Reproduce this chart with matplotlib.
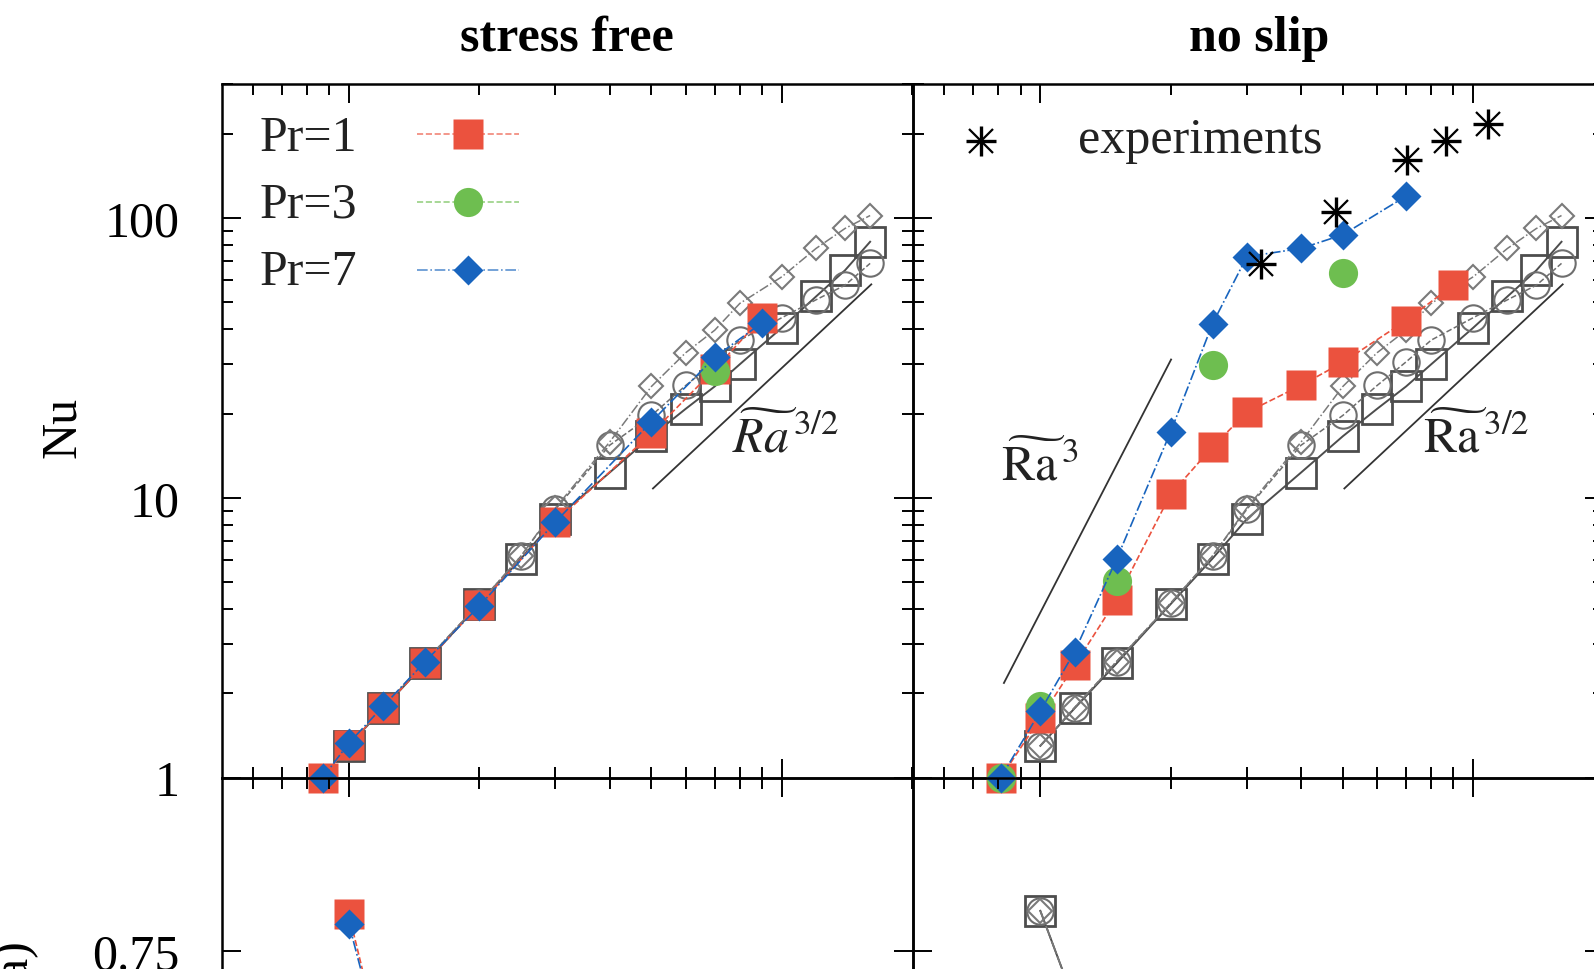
import matplotlib
matplotlib.use("Agg")
import matplotlib.pyplot as plt
from matplotlib.ticker import LogLocator, NullFormatter, FixedLocator, FixedFormatter

# ---------------- data ----------------
# stress free (top left)
sf_x = [8.7, 10, 12, 15, 20, 30, 50, 70, 90]
sf_pr1 = [1.0, 1.31, 1.77, 2.56, 4.15, 8.2, 17.0, 28.8, 44.0]
sf_pr7 = [1.0, 1.33, 1.80, 2.60, 4.10, 8.2, 18.7, 31.8, 42.2]
sf_pr3_x = [70]
sf_pr3 = [28.5]

# no slip (top right)
ns_x = [8.1, 10, 12, 15, 20, 25, 30, 40, 50, 70, 90]
ns_pr1 = [1.0, 1.63, 2.52, 4.33, 10.3, 15.2, 20.2, 25.2, 30.5, 43.0, 57.6]
ns_pr7_x = [8.1, 10, 12, 15, 20, 25, 30, 40, 50, 70]
ns_pr7 = [1.0, 1.73, 2.82, 6.03, 17.2, 41.9, 72.7, 77.8, 87.1, 119.7]
ns_pr3_x = [8.1, 10, 15, 25, 50]
ns_pr3 = [1.0, 1.8, 5.03, 29.9, 63.8]
exp_x = [32.4, 48.1, 70.3, 86.5, 108.5]
exp_nu = [68.2, 105.0, 161.6, 187.8, 215.8]

# grey reference series (same in both panels)
gray_x = [10, 12, 15, 20, 25, 30, 40, 50, 60, 70, 80, 100, 120, 140, 160]
gray_sq = [1.30, 1.77, 2.56, 4.17, 6.07, 8.4, 12.3, 16.6, 20.8, 25.0, 30.0, 40.5, 52.4, 65.0, 82.2]
gray_ci = [1.30, 1.78, 2.60, 4.20, 6.20, 9.1, 15.4, 19.7, 25.2, 30.6, 36.6, 44.0, 51.0, 57.5, 68.8]
gray_di = [1.30, 1.78, 2.60, 4.20, 6.20, 9.2, 15.8, 25.0, 33.0, 39.7, 49.5, 61.6, 77.8, 91.7, 102.0]

# guide lines
g32_x = [50.4, 161.0]
g32_y = [10.8, 57.9]
g3_x = [8.24, 20.05]
g3_y = [2.18, 31.2]

# lower panels (partially visible)
low_x = [10, 12]
low_sf_pr1 = [0.803, 0.60]
low_sf_pr7 = [0.789, 0.60]
low_ns_gray = [0.808, 0.676]

titles = ["stress free", "no slip"]
legend_labels = ["Pr=1", "Pr=3", "Pr=7"]
nu_ticks = [1, 10, 100]
nu_ticklabels = ["1", "10", "100"]
low_ticks = [0.25, 0.5, 0.75]
low_ticklabels = ["0.25", "0.5", "0.75"]

# ---------------- style ----------------
plt.rcParams["font.family"] = ["Liberation Serif", "DejaVu Serif"]
plt.rcParams["mathtext.fontset"] = "stix"
FS = 36
RED = "#EB523E"
GREEN = "#6EBE50"
BLUE = "#1864BE"
G1 = "#4d4d4d"
G2 = "#6e6e6e"
G3 = "#7a7a7a"

W, H = 1594, 970
fig = plt.figure(figsize=(W / 100, H / 100), dpi=100)


def rect(l, t, w, h):
    return [l / W, (H - t - h) / H, w / W, h / H]


PW, PH = 691.4, 693.3
ax_sf = fig.add_axes(rect(221.6, 85.4, PW, PH))
ax_ns = fig.add_axes(rect(913.0, 85.4, PW, PH))
ax_sfb = fig.add_axes(rect(221.6, 778.7, PW, PH))
ax_nsb = fig.add_axes(rect(913.0, 778.7, PW, PH))

XLIM = (5.08, 201)

for ax in (ax_sf, ax_ns, ax_sfb, ax_nsb):
    ax.set_xscale("log")
    ax.set_xlim(*XLIM)
    ax.xaxis.set_major_locator(FixedLocator([10, 100]))
    ax.xaxis.set_minor_locator(LogLocator(base=10, subs=range(2, 10)))
    ax.xaxis.set_major_formatter(NullFormatter())
    ax.xaxis.set_minor_formatter(NullFormatter())
    ax.tick_params(which="both", direction="in", top=True, right=True,
                   labelsize=FS, width=1.4, colors="black")
    ax.tick_params(which="major", length=14, pad=30)
    ax.tick_params(which="minor", length=8)
    for s in ax.spines.values():
        s.set_linewidth(1.8)
    ax.patch.set_visible(False)

for ax in (ax_sf, ax_ns):
    ax.set_yscale("log")
    ax.set_ylim(1, 300)
    ax.yaxis.set_major_locator(FixedLocator(nu_ticks))
    ax.yaxis.set_minor_locator(LogLocator(base=10, subs=range(2, 10)))
    ax.yaxis.set_minor_formatter(NullFormatter())

ax_sf.yaxis.set_major_formatter(FixedFormatter(nu_ticklabels))
ax_ns.yaxis.set_major_formatter(NullFormatter())

for ax in (ax_sfb, ax_nsb):
    ax.set_ylim(0, 1)
    ax.yaxis.set_major_locator(FixedLocator(low_ticks))
    ax.yaxis.set_minor_locator(FixedLocator([]))
ax_sfb.yaxis.set_major_formatter(FixedFormatter(low_ticklabels))
ax_nsb.yaxis.set_major_formatter(NullFormatter())

ax_sf.set_title(titles[0], fontsize=FS, fontweight="bold", pad=25)
ax_ns.set_title(titles[1], fontsize=FS, fontweight="bold", pad=25)
fig.text(63 / W, 1 - 427 / H, "Nu", fontsize=FS, rotation=90, ha="center", va="center")
fig.text(14 / W, 1 - 938 / H, "(Ra)", fontsize=FS, rotation=90, ha="center", va="top")


def gray_series(ax, x, ysq, yci, ydi, clip=True):
    ax.plot(x, ysq, "-", color=G1, lw=1.4, marker="s", ms=21, mfc="none",
            mec=G1, mew=2.0, zorder=2, clip_on=clip)
    ax.plot(x, yci, "--", color=G2, lw=1.1, marker="o", ms=19, mfc="none",
            mec=G2, mew=1.5, zorder=2, clip_on=clip)
    ax.plot(x, ydi, "-.", color=G3, lw=1.1, marker="D", ms=12.5, mfc="none",
            mec=G3, mew=1.5, zorder=2, clip_on=clip)


gray_series(ax_sf, gray_x, gray_sq, gray_ci, gray_di)
gray_series(ax_ns, gray_x, gray_sq, gray_ci, gray_di)

sq_kw = dict(marker="s", ms=21, mec="none", clip_on=False)
ci_kw = dict(marker="o", ms=21, mec="none", clip_on=False)
di_kw = dict(marker="D", ms=15.5, mec="none", clip_on=False)

# stress free
ax_sf.plot(sf_x, sf_pr1, ls="--", color=RED, lw=1.2, mfc=RED, zorder=3, **sq_kw)
ax_sf.plot(sf_pr3_x, sf_pr3, ls="--", color=GREEN, lw=1.2, mfc=GREEN, zorder=4, **ci_kw)
ax_sf.plot(sf_x, sf_pr7, ls="-.", color=BLUE, lw=1.2, mfc=BLUE, zorder=5, **di_kw)

# no slip
ax_ns.plot(ns_x, ns_pr1, ls="--", color=RED, lw=1.2, mfc=RED, zorder=3, **sq_kw)
ax_ns.plot(ns_pr3_x, ns_pr3, ls="none", color=GREEN, mfc=GREEN, zorder=4, **ci_kw)
ax_ns.plot(ns_pr7_x, ns_pr7, ls="-.", color=BLUE, lw=1.2, mfc=BLUE, zorder=5, **di_kw)
for m, ms, mw in (("+", 22, 2.4), ("x", 17, 1.6)):
    ax_ns.plot(exp_x, exp_nu, ls="none", marker=m, ms=ms, mew=mw, color="black",
               zorder=6, clip_on=False)

# guide lines
ax_sf.plot(g32_x, g32_y, color="#333333", lw=1.3, zorder=1)
ax_ns.plot(g32_x, g32_y, color="#333333", lw=1.3, zorder=1)
ax_ns.plot(g3_x, g3_y, color="#333333", lw=1.3, zorder=1)

ax_sf.text(0.816, 0.49, r"$\widetilde{Ra}^{\,3/2}$", transform=ax_sf.transAxes,
           fontsize=FS, ha="center", va="center", color="#222222")
ax_ns.text(0.814, 0.49, r"$\widetilde{\mathrm{Ra}}^{\,3/2}$", transform=ax_ns.transAxes,
           fontsize=FS, ha="center", va="center", color="#222222")
ax_ns.text(0.184, 0.45, r"$\widetilde{\mathrm{Ra}}^{\,3}$", transform=ax_ns.transAxes,
           fontsize=FS, ha="center", va="center", color="#222222")

# experiments key
for m, ms, mw in (("+", 22, 2.4), ("x", 17, 1.6)):
    ax_ns.plot([0.0988], [0.918], transform=ax_ns.transAxes, ls="none", marker=m,
               ms=ms, mew=mw, color="black")
ax_ns.text(0.416, 0.903, "experiments", transform=ax_ns.transAxes, fontsize=FS,
           ha="center", va="baseline", color="#222222")

# legend (stress free panel)
leg_rows = [(legend_labels[0], RED, "--", "s", 21, 0.906, 0.928),
            (legend_labels[1], GREEN, "--", "o", 21, 0.809, 0.830),
            (legend_labels[2], BLUE, "-.", "D", 15.5, 0.7125, 0.733)]
for lab, col, ls, mk, ms, yb, ym in leg_rows:
    ax_sf.text(0.0544, yb, lab, transform=ax_sf.transAxes, fontsize=FS,
               ha="left", va="baseline", color="#222222")
    ax_sf.plot([0.2824, 0.4295], [ym, ym], transform=ax_sf.transAxes, ls=ls,
               color=col, lw=1.2, alpha=0.7)
    ax_sf.plot([0.356], [ym], transform=ax_sf.transAxes, ls="none", marker=mk,
               ms=ms, mfc=col, mec="none")

# lower panels
ax_sfb.plot(low_x, low_sf_pr1, ls="--", color=RED, lw=1.2, mfc=RED, zorder=3, **sq_kw)
ax_sfb.plot(low_x, low_sf_pr7, ls="-.", color=BLUE, lw=1.2, mfc=BLUE, zorder=5, **di_kw)
ax_nsb.plot(low_x, low_ns_gray, "-", color=G1, lw=1.4, marker="s", ms=21, mfc="none",
            mec=G1, mew=2.0, zorder=2)
ax_nsb.plot(low_x, low_ns_gray, "--", color=G2, lw=1.1, marker="o", ms=19, mfc="none",
            mec=G2, mew=1.5, zorder=2)
ax_nsb.plot(low_x, low_ns_gray, "-.", color=G3, lw=1.1, marker="D", ms=12.5, mfc="none",
            mec=G3, mew=1.5, zorder=2)

fig.savefig("out.png", dpi=100)
